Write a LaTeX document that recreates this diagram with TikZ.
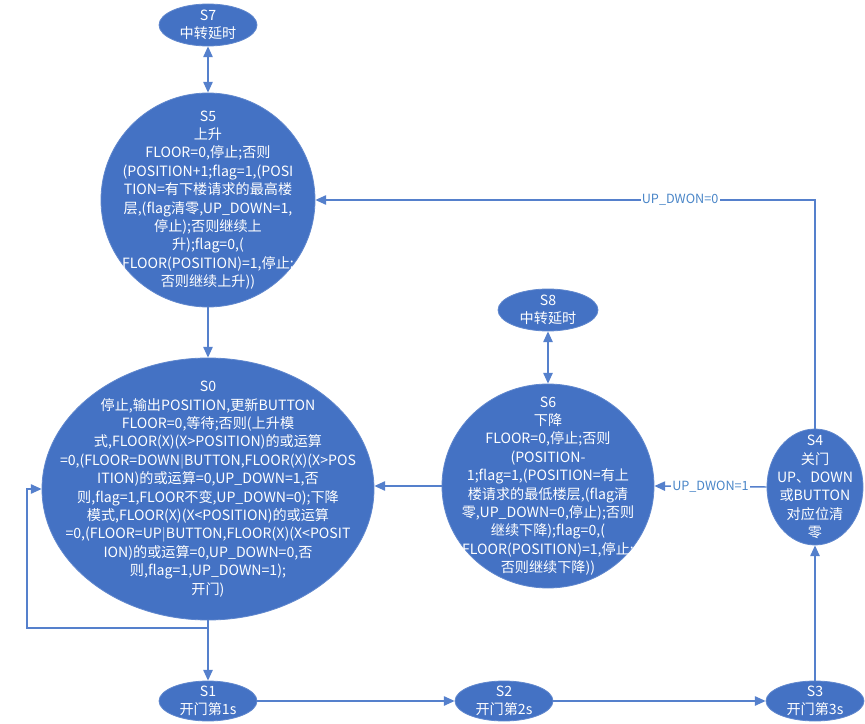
\documentclass[tikz,border=0pt]{standalone}
\usepackage{fontspec}
\setmainfont{Noto Sans CJK SC}
\usetikzlibrary{shapes.geometric,arrows.meta}
\newcommand\pxu{0.75pt}
\definecolor{stblue}{HTML}{4472C4}
\definecolor{edgeblue}{HTML}{5580CC}
\definecolor{lblblue}{HTML}{4A86C8}
\tikzset{
  st/.style={ellipse, fill=stblue, draw=stblue!85!white, line width=0.6pt, inner sep=0pt},
  txt/.style={text=white, align=center, font=\fontsize{10.6pt}{13.8pt}\selectfont, inner sep=0pt},
  arr/.style={draw=edgeblue, line width=1.1pt, -{Triangle[length=8pt,width=7pt]}},
  dbl/.style={draw=edgeblue, line width=1.1pt, {Triangle[length=8pt,width=7pt]}-{Triangle[length=8pt,width=7pt]}},
  lbl/.style={text=lblblue, fill=white, inner sep=1pt, font=\fontsize{9.5pt}{11pt}\selectfont}
}
\begin{document}
\begin{tikzpicture}[x=0.75pt,y=-0.75pt]
\useasboundingbox (0,0) rectangle (865,724);
% states
\node[st, minimum width=98*\pxu, minimum height=42*\pxu] (s7) at (208,25) {};
\node[txt] at (s7) {S7\\中转延时};
\node[st, minimum width=214*\pxu, minimum height=214*\pxu] (s5) at (208,200) {};
\node[txt] at (s5) {S5\\上升\\FLOOR=0,停止;否则\\(POSITION+1;flag=1,(POSI\\TION=有下楼请求的最高楼\\层,(flag清零,UP\_DOWN=1,\\停止);否则继续上\\升);flag=0,(\\FLOOR(POSITION)=1,停止;\\否则继续上升))};
\node[st, minimum width=100*\pxu, minimum height=42*\pxu] (s8) at (548,310) {};
\node[txt] at (s8) {S8\\中转延时};
\node[st, minimum width=332*\pxu, minimum height=262*\pxu] (s0) at (208,489) {};
\node[txt] at (s0) {S0\\停止,输出POSITION,更新BUTTON\\FLOOR=0,等待;否则(上升模\\式,FLOOR(X)(X>POSITION)的或运算\\=0,(FLOOR=DOWN$|$BUTTON,FLOOR(X)(X>POS\\ITION)的或运算=0,UP\_DOWN=1,否\\则,flag=1,FLOOR不变,UP\_DOWN=0);下降\\模式,FLOOR(X)(X<POSITION)的或运算\\=0,(FLOOR=UP$|$BUTTON,FLOOR(X)(X<POSIT\\ION)的或运算=0,UP\_DOWN=0,否\\则,flag=1,UP\_DOWN=1);\\开门)};
\node[st, minimum width=212*\pxu, minimum height=204*\pxu] (s6) at (548,486) {};
\node[txt] at (s6) {S6\\下降\\FLOOR=0,停止;否则\\(POSITION-\\1;flag=1,(POSITION=有上\\楼请求的最低楼层,(flag清\\零,UP\_DOWN=0,停止);否则\\继续下降);flag=0,(\\FLOOR(POSITION)=1,停止;\\否则继续下降))};
\node[st, minimum width=96*\pxu, minimum height=116*\pxu] (s4) at (815,487) {};
\node[txt] at (s4) {S4\\关门\\UP、DOWN\\或BUTTON\\对应位清\\零};
\node[st, minimum width=98*\pxu, minimum height=40*\pxu] (s1) at (208,701) {};
\node[txt] at (s1) {S1\\开门第1s};
\node[st, minimum width=98*\pxu, minimum height=40*\pxu] (s2) at (504,701) {};
\node[txt] at (s2) {S2\\开门第2s};
\node[st, minimum width=98*\pxu, minimum height=40*\pxu] (s3) at (815,701) {};
\node[txt] at (s3) {S3\\开门第3s};
% connectors
\draw[dbl] (s7.south) -- (s5.north);
\draw[dbl] (s8.south) -- (s6.north);
\draw[arr] (s5.south) -- (s0.north);
\draw[arr] (s0.south) -- (s1.north);
\coordinate (lp) at (208,628);
\draw[arr] (lp) -- ++(-181,0) |- (s0.west);
\draw[arr] (s1.east) -- (s2.west);
\draw[arr] (s2.east) -- (s3.west);
\draw[arr] (s3.north) -- (s4.south);
\draw[arr] (s4.west) -- node[lbl] {UP\_DWON=1} (s6.east);
\draw[arr] (s4.north) |- node[lbl, pos=0.635] {UP\_DWON=0} (s5.east);
\draw[arr] (s6.west) -- (s6.west -| s0.east);
\end{tikzpicture}
\end{document}
